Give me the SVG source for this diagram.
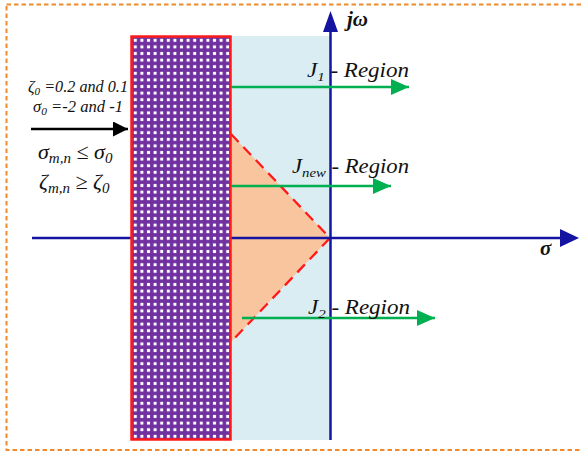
<svg xmlns="http://www.w3.org/2000/svg" width="582" height="454" viewBox="0 0 582 454">
<defs>
<pattern id="dots" width="6.6" height="6.6" patternUnits="userSpaceOnUse" x="132" y="37">
<rect width="6.6" height="6.6" fill="#7030A0"/>
<rect x="1.8" y="1.8" width="3" height="3" fill="#ffffff"/>
</pattern>
<marker id="agreen" markerWidth="18" markerHeight="16" refX="18" refY="8" orient="auto" markerUnits="userSpaceOnUse">
<path d="M0,0 L18,8 L0,16 Z" fill="#00B050"/>
</marker>
<marker id="ablack" markerWidth="15" markerHeight="15" refX="15" refY="7.5" orient="auto" markerUnits="userSpaceOnUse">
<path d="M0,0 L15,7.5 L0,15 Z" fill="#000"/>
</marker>
</defs>
<style>
.lbl{font-family:"Liberation Serif","Times New Roman",serif;font-style:italic;fill:#111}
.ax{stroke:#1414A0;stroke-width:2.5;fill:none}
.gr{stroke:#00B050;stroke-width:2.5;fill:none;marker-end:url(#agreen)}
</style>
<rect id="frame" x="6.5" y="4.5" width="600" height="445.5" fill="none" stroke="#F08A2C" stroke-width="2" stroke-dasharray="4.5,3"/>
<g id="j-region">
<rect x="231" y="36" width="99" height="404" fill="#DAEDF3"/>
</g>
<g id="jnew-area">
<polygon points="231,134 330,238 231,342" fill="#F8C59E"/>
<polyline points="231,134 330,238 231,342" fill="none" stroke="#FF1A1A" stroke-width="2.3" stroke-dasharray="11,7"/>
</g>
<g id="axes">
<line class="ax" x1="32" y1="238" x2="562" y2="238"/>
<path d="M560,229 L579,238 L560,247 Z" fill="#1414A0"/>
<line class="ax" x1="330.5" y1="440" x2="330.5" y2="30"/>
<path d="M323,32 L330.5,11 L338,32 Z" fill="#1414A0"/>
</g>
<g id="forbidden">
<rect x="131.5" y="36.5" width="99" height="403" fill="url(#dots)" stroke="#FF1A1A" stroke-width="2.5"/>
</g>
<g id="connectors">
<line class="gr" x1="231" y1="87" x2="409" y2="87"/>
<line class="gr" x1="231" y1="186" x2="391" y2="186"/>
<line class="gr" x1="242" y1="318" x2="435" y2="318"/>
<line x1="31" y1="129" x2="128" y2="129" stroke="#000" stroke-width="2.5" marker-end="url(#ablack)"/>
</g>
<g id="axis-labels">
<text class="lbl" x="347" y="26" font-size="21" font-weight="bold">jω</text>
<text class="lbl" x="540" y="255" font-size="21" font-weight="bold">σ</text>
</g>
<g id="region-labels">
<text class="lbl" x="307" y="77" font-size="20" textLength="102" lengthAdjust="spacingAndGlyphs">J<tspan font-size="13" dy="4">1</tspan><tspan dy="-4"> - Region</tspan></text>
<text class="lbl" x="292" y="173" font-size="20" textLength="117" lengthAdjust="spacingAndGlyphs">J<tspan font-size="13" dy="4">new</tspan><tspan dy="-4"> - Region</tspan></text>
<text class="lbl" x="308" y="314" font-size="20" textLength="102" lengthAdjust="spacingAndGlyphs">J<tspan font-size="13" dy="4">2</tspan><tspan dy="-4"> - Region</tspan></text>
</g>
<g id="conditions">
<text class="lbl" x="28" y="92" font-size="16" textLength="100" lengthAdjust="spacingAndGlyphs">ζ<tspan font-size="11" dy="3">0</tspan><tspan dy="-3"> =0.2 and 0.1</tspan></text>
<text class="lbl" x="33" y="112" font-size="16" textLength="90" lengthAdjust="spacingAndGlyphs">σ<tspan font-size="11" dy="3">0</tspan><tspan dy="-3"> =-2 and -1</tspan></text>
<text class="lbl" x="38" y="159" font-size="22">σ<tspan font-size="15" dy="4">m,n</tspan><tspan dy="-4"> ≤ σ</tspan><tspan font-size="15" dy="4">0</tspan></text>
<text class="lbl" x="39" y="189" font-size="22">ζ<tspan font-size="15" dy="4">m,n</tspan><tspan dy="-4"> ≥ ζ</tspan><tspan font-size="15" dy="4">0</tspan></text>
</g>
</svg>
